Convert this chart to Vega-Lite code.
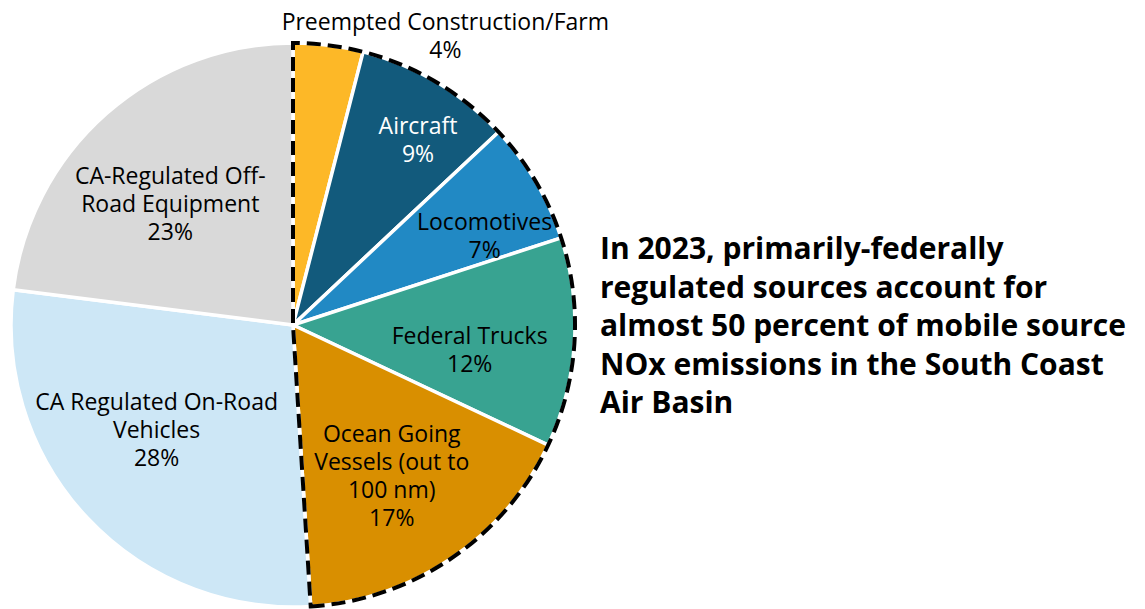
{
  "$schema": "https://vega.github.io/schema/vega-lite/v6.json",
  "autosize": {"type": "none"},
  "width": 586,
  "height": 568,
  "padding": {"left": 0, "top": 41, "right": 559, "bottom": 0},
  "background": "white",
  "config": {"view": {"stroke": null}},
  "data": {"values": [
    {"source": "Preempted Construction/Farm", "label": "Preempted Construction/Farm\n4%", "pct": 4, "rank": 1, "grp": "Federal"},
    {"source": "Aircraft", "label": "Aircraft\n9%", "pct": 9, "rank": 2, "grp": "Federal"},
    {"source": "Locomotives", "label": "Locomotives\n7%", "pct": 7, "rank": 3, "grp": "Federal"},
    {"source": "Federal Trucks", "label": "Federal Trucks\n12%", "pct": 12, "rank": 4, "grp": "Federal"},
    {"source": "Ocean Going Vessels", "label": "Ocean Going\nVessels (out to\n100 nm)\n17%", "pct": 17, "rank": 5, "grp": "Federal"},
    {"source": "CA Regulated On-Road Vehicles", "label": "CA Regulated On-Road\nVehicles\n28%", "pct": 28, "rank": 6, "grp": "State"},
    {"source": "CA-Regulated Off-Road Equipment", "label": "CA-Regulated Off-\nRoad Equipment\n23%", "pct": 23, "rank": 7, "grp": "State"}
  ]},
  "layer": [
    {
      "mark": {"type": "arc", "outerRadius": 282, "stroke": "white", "strokeWidth": 3.5},
      "encoding": {
        "theta": {"field": "pct", "type": "quantitative", "stack": true},
        "order": {"field": "rank", "type": "quantitative"},
        "color": {"field": "source", "type": "nominal", "legend": null,
          "scale": {"domain": ["Preempted Construction/Farm", "Aircraft", "Locomotives", "Federal Trucks", "Ocean Going Vessels", "CA Regulated On-Road Vehicles", "CA-Regulated Off-Road Equipment"],
                    "range": ["#FDB827", "#125A7C", "#2189C4", "#38A391", "#D98F00", "#CDE7F6", "#D9D9D9"]}}
      }
    },
    {
      "transform": [{"aggregate": [{"op": "sum", "field": "pct", "as": "pct"}], "groupby": ["grp"]}],
      "mark": {"type": "arc", "outerRadius": 282, "fillOpacity": 0, "fill": "white", "stroke": "black", "strokeWidth": 4, "strokeDash": [14, 7]},
      "encoding": {
        "theta": {"field": "pct", "type": "quantitative", "stack": true},
        "order": {"field": "grp", "type": "ordinal"},
        "strokeOpacity": {"condition": {"test": "datum.grp === 'State'", "value": 0}, "value": 1}
      }
    },
    {
      "mark": {"type": "text", "radius": 290, "dx": 116, "dy": -14, "font": "Open Sans", "fontSize": 23, "lineBreak": "\n", "lineHeight": 28, "align": "center", "baseline": "middle", "color": "black"},
      "encoding": {
        "theta": {"field": "pct", "type": "quantitative", "stack": true},
        "order": {"field": "rank", "type": "quantitative"},
        "text": {"condition": {"test": "datum.rank === 1", "field": "label"}, "value": ""}
      }
    },
    {
      "mark": {"type": "text", "radius": 224, "dx": 11, "dy": -5, "font": "Open Sans", "fontSize": 23, "lineBreak": "\n", "lineHeight": 28, "align": "center", "baseline": "middle", "color": "white"},
      "encoding": {
        "theta": {"field": "pct", "type": "quantitative", "stack": true},
        "order": {"field": "rank", "type": "quantitative"},
        "text": {"condition": {"test": "datum.rank === 2", "field": "label"}, "value": ""}
      }
    },
    {
      "mark": {"type": "text", "radius": 211, "dx": 10, "dy": 5, "font": "Open Sans", "fontSize": 23, "lineBreak": "\n", "lineHeight": 28, "align": "center", "baseline": "middle", "color": "black"},
      "encoding": {
        "theta": {"field": "pct", "type": "quantitative", "stack": true},
        "order": {"field": "rank", "type": "quantitative"},
        "text": {"condition": {"test": "datum.rank === 3", "field": "label"}, "value": ""}
      }
    },
    {
      "mark": {"type": "text", "radius": 179, "dx": -2, "dy": 1, "font": "Open Sans", "fontSize": 23, "lineBreak": "\n", "lineHeight": 28, "align": "center", "baseline": "middle", "color": "black"},
      "encoding": {
        "theta": {"field": "pct", "type": "quantitative", "stack": true},
        "order": {"field": "rank", "type": "quantitative"},
        "text": {"condition": {"test": "datum.rank === 4", "field": "label"}, "value": ""}
      }
    },
    {
      "mark": {"type": "text", "radius": 181, "dx": -3, "dy": -40, "font": "Open Sans", "fontSize": 23, "lineBreak": "\n", "lineHeight": 28, "align": "center", "baseline": "middle", "color": "black"},
      "encoding": {
        "theta": {"field": "pct", "type": "quantitative", "stack": true},
        "order": {"field": "rank", "type": "quantitative"},
        "text": {"condition": {"test": "datum.rank === 5", "field": "label"}, "value": ""}
      }
    },
    {
      "mark": {"type": "text", "radius": 172, "dx": -11, "dy": -40, "font": "Open Sans", "fontSize": 23, "lineBreak": "\n", "lineHeight": 28, "align": "center", "baseline": "middle", "color": "black"},
      "encoding": {
        "theta": {"field": "pct", "type": "quantitative", "stack": true},
        "order": {"field": "rank", "type": "quantitative"},
        "text": {"condition": {"test": "datum.rank === 6", "field": "label"}, "value": ""}
      }
    },
    {
      "mark": {"type": "text", "radius": 175, "dx": -7, "dy": -17, "font": "Open Sans", "fontSize": 23, "lineBreak": "\n", "lineHeight": 28, "align": "center", "baseline": "middle", "color": "black"},
      "encoding": {
        "theta": {"field": "pct", "type": "quantitative", "stack": true},
        "order": {"field": "rank", "type": "quantitative"},
        "text": {"condition": {"test": "datum.rank === 7", "field": "label"}, "value": ""}
      }
    },
    {
      "data": {"values": [{"note": "In 2023, primarily-federally\nregulated sources account for\nalmost 50 percent of mobile source\nNOx emissions in the South Coast\nAir Basin"}]},
      "mark": {"type": "text", "dx": 307, "dy": -75, "font": "Open Sans", "fontWeight": "bold", "fontSize": 30, "lineBreak": "\n", "lineHeight": 38.5, "align": "left", "baseline": "middle", "color": "black"},
      "encoding": {"text": {"field": "note", "type": "nominal"}}
    }
  ]
}
